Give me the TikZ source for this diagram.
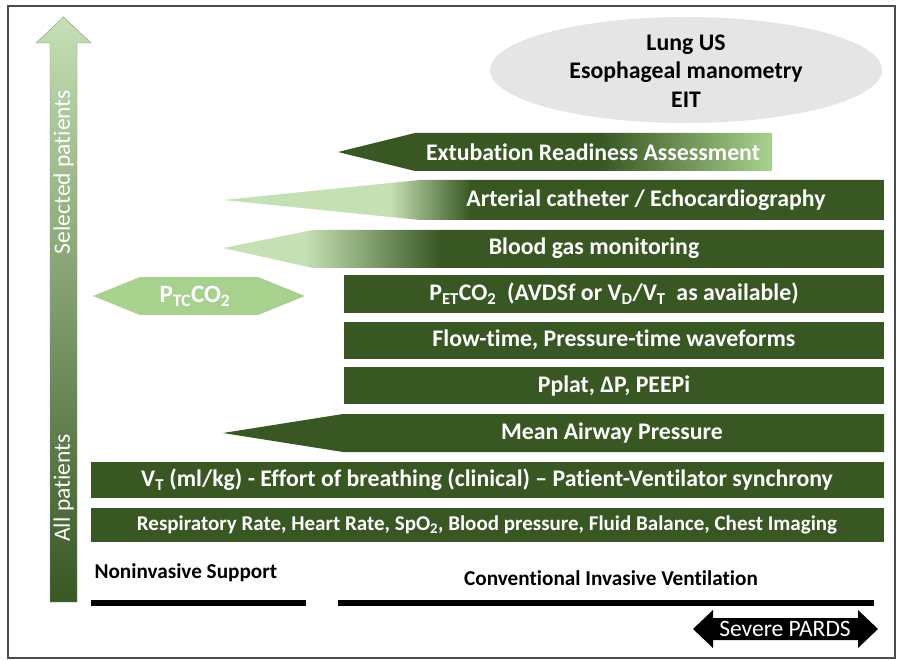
\documentclass[tikz,border=0pt]{standalone}
\usepackage{fontspec}
\setmainfont[Ligatures={TeX,NoCommon}]{Carlito}
\usetikzlibrary{calc}

\definecolor{gDark}{HTML}{385723}
\definecolor{gLight}{HTML}{A9D18E}
\definecolor{gPale}{HTML}{C5E0B4}

\tikzset{
  bartext/.style={text=white, font=\bfseries\fontsize{23.8}{26}\selectfont},
  smalltext/.style={text=white, font=\bfseries\fontsize{21}{23}\selectfont},
  labtext/.style={text=black, font=\bfseries\fontsize{21.2}{23}\selectfont},
  sidetext/.style={text=white, rotate=90, font=\fontsize{23.5}{25}\selectfont},
  darkbar/.style={fill=gDark},
  blackbar/.style={line width=6.5pt, black},
}

\begin{document}
\begin{tikzpicture}[x=1pt,y=-1pt]
\useasboundingbox (0,0) rectangle (897,660);
\draw[black!70, line width=1.2pt] (8,6) rectangle (895,658);

% patients arrow
\shade[top color=gPale, bottom color=gDark, draw=gDark!60, line width=0.4pt]
  (50,602) -- (50,43) -- (36,43) -- (63.5,17) -- (91,43) -- (77,43) -- (77,602) -- cycle;
\node[sidetext] (selected) at (63.5,172) {Selected patients};
\node[sidetext] (allpat) at (63.5,488) {All patients};

% advanced monitoring
\fill[gray!20] (686,70) ellipse [x radius=196pt, y radius=53pt];
\node[labtext, align=center, font=\bfseries\fontsize{23.8}{28.5}\selectfont] (advanced) at (686,71)
  {Lung US\\Esophageal manometry\\EIT};

% extubation
\begin{scope}
\clip (338,152) -- (415,133) -- (772,133) -- (772,171) -- (415,171) -- cycle;
\fill[gDark] (330,130) rectangle (601,175);
\shade[left color=gDark, right color=gLight] (600,130) rectangle (772,175);
\end{scope}
\node[bartext] (extub) at (593,152) {Extubation Readiness Assessment};

% arterial catheter
\begin{scope}
\clip (223,200) -- (420,180) -- (884,180) -- (884,220) -- (420,220) -- cycle;
\fill[gPale] (220,175) rectangle (391,225);
\shade[left color=gPale, right color=gDark] (390,175) rectangle (471,225);
\fill[gDark] (470,175) rectangle (884,225);
\end{scope}
\node[bartext] (arterial) at (646,200) {Arterial catheter / Echocardiography};

% blood gas
\begin{scope}
\clip (223,248) -- (313,230) -- (884,230) -- (884,268) -- (313,268) -- cycle;
\fill[gPale] (220,225) rectangle (306,272);
\shade[left color=gPale, right color=gDark] (305,225) rectangle (441,272);
\fill[gDark] (440,225) rectangle (884,272);
\end{scope}
\node[bartext] (bloodgas) at (594,248) {Blood gas monitoring};

% transcutaneous CO2
\fill[gLight] (93,296) -- (140,277) -- (258,277) -- (305,296) -- (258,315) -- (140,315) -- cycle;
\node[bartext, font=\bfseries\fontsize{25}{27}\selectfont] (ptco) at (195,296)
  {P\textsubscript{TC}CO\textsubscript{2}};

% ventilator bars
\fill[darkbar] (344,275) rectangle (884,313);
\node[bartext] (petco) at (614,294)
  {P\textsubscript{ET}CO\textsubscript{2}\ \ (AVDSf or V\textsubscript{D}/V\textsubscript{T}\ \ as available)};
\fill[darkbar] (344,322) rectangle (884,359);
\node[bartext] (waves) at (614,340) {Flow-time, Pressure-time waveforms};
\fill[darkbar] (344,367) rectangle (884,404);
\node[bartext] (pplat) at (614,386) {Pplat, ΔP, PEEPi};
\fill[darkbar] (223,433) -- (343,414) -- (884,414) -- (884,452) -- (343,452) -- cycle;
\node[bartext] (paw) at (612,433) {Mean Airway Pressure};

% all patients bars
\fill[darkbar] (91,462) rectangle (884,498);
\node[bartext] (vt) at (487,480)
  {V\textsubscript{T} (ml/kg) - Effort of breathing (clinical) -- Patient-Ventilator synchrony};
\fill[darkbar] (91,508) rectangle (884,542);
\node[smalltext] (vitals) at (487,525)
  {Respiratory Rate, Heart Rate, SpO\textsubscript{2}, Blood pressure, Fluid Balance, Chest Imaging};

% support levels
\node[labtext, anchor=west] (nonInv) at (91,573) {Noninvasive Support};
\node[labtext] (conv) at (611,578) {Conventional Invasive Ventilation};
\coordinate (nonA) at (91,603);
\coordinate (nonB) at (306,603);
\coordinate (convA) at (338,603);
\coordinate (convB) at (874,603);
\draw[blackbar] (nonA) -- (nonB);
\draw[blackbar] (convA) -- (convB);

% severe PARDS
\fill[black] (693,629) -- (713,610) -- (713,618) -- (858,618) -- (858,610) -- (878,629)
  -- (858,648) -- (858,640) -- (713,640) -- (713,648) -- cycle;
\node[text=white, font=\fontsize{23.5}{25}\selectfont] (severe) at (785,629) {Severe PARDS};

\end{tikzpicture}
\end{document}
